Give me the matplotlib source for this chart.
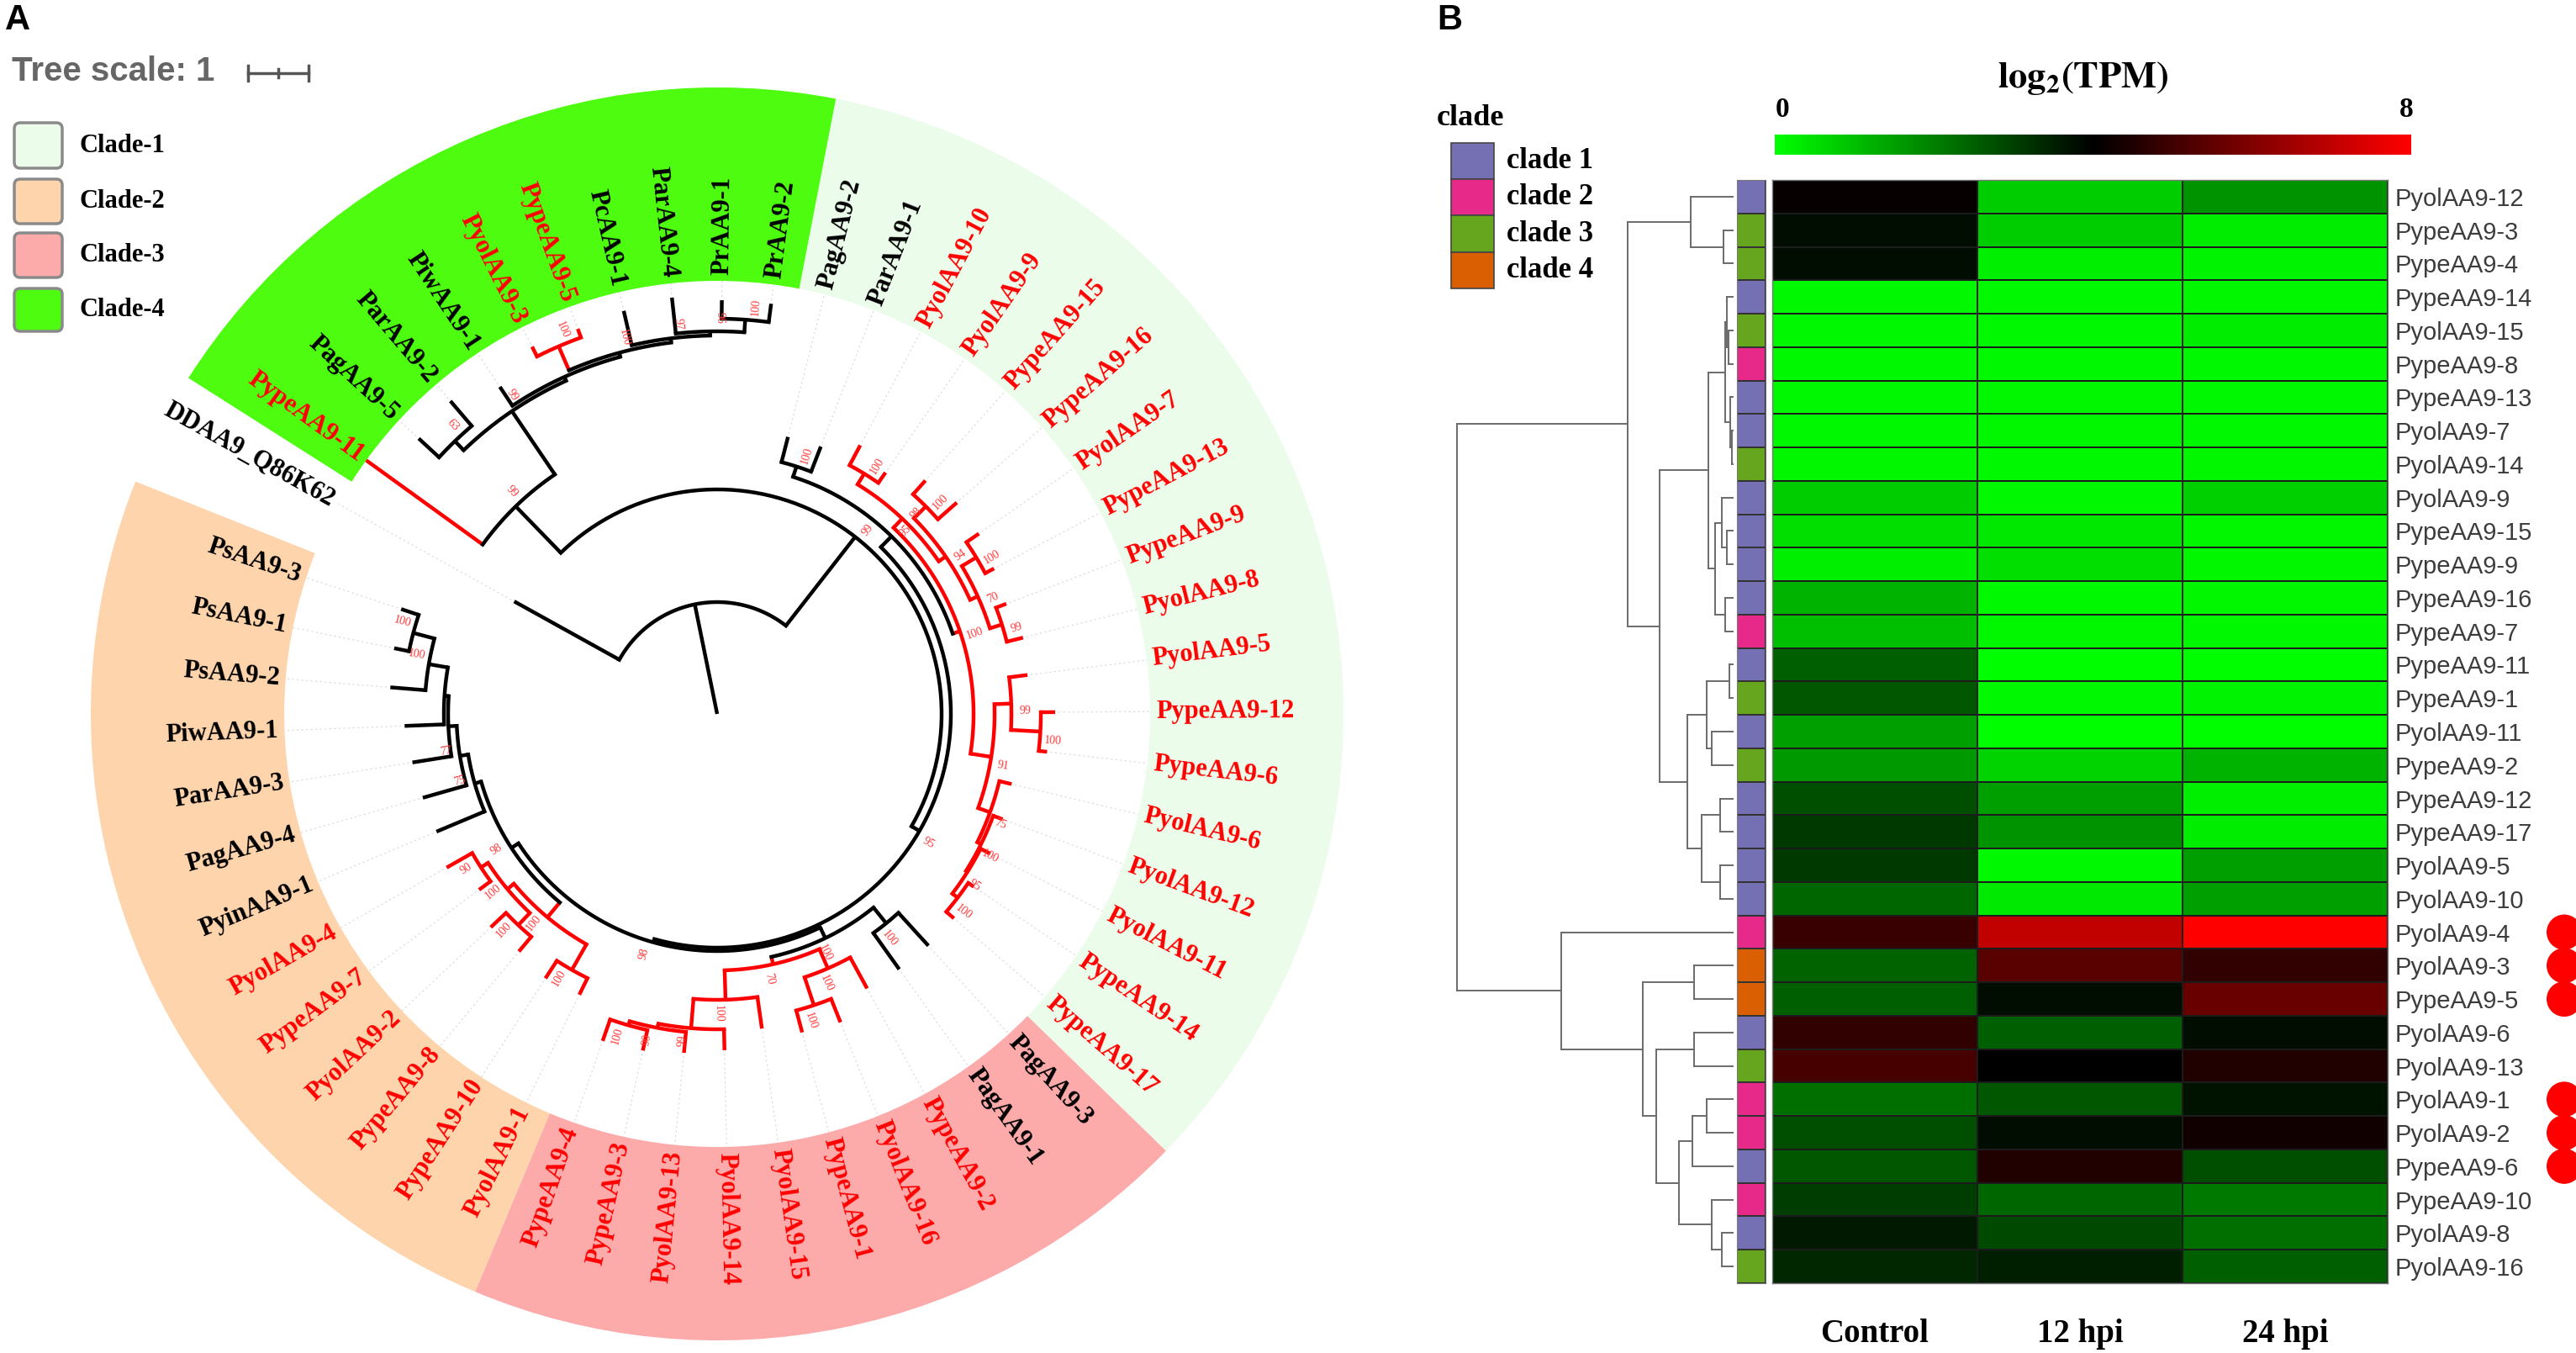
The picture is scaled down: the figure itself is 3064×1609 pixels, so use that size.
import numpy as np
import matplotlib
matplotlib.use("Agg")
import matplotlib.pyplot as plt
from matplotlib.patches import Wedge, FancyBboxPatch, Rectangle, Circle
from matplotlib.colors import LinearSegmentedColormap, ListedColormap

plt.rcParams['mathtext.fontset'] = 'stix'

# ---------------- panel A data ----------------
# leaves in clockwise order, starting at the outgroup
leaf_names = ["DDAA9_Q86K62", "PypeAA9-11", "PagAA9-5", "ParAA9-2", "PiwAA9-1", "PyolAA9-3",
              "PypeAA9-5", "PcAA9-1", "ParAA9-4", "PrAA9-1", "PrAA9-2",
              "PagAA9-2", "ParAA9-1", "PyolAA9-10", "PyolAA9-9", "PypeAA9-15", "PypeAA9-16",
              "PyolAA9-7", "PypeAA9-13", "PypeAA9-9", "PyolAA9-8", "PyolAA9-5", "PypeAA9-12",
              "PypeAA9-6", "PyolAA9-6", "PyolAA9-12", "PyolAA9-11", "PypeAA9-14", "PypeAA9-17",
              "PagAA9-3", "PagAA9-1", "PypeAA9-2", "PyolAA9-16", "PypeAA9-1", "PyolAA9-15",
              "PyolAA9-14", "PyolAA9-13", "PypeAA9-3", "PypeAA9-4",
              "PyolAA9-1", "PypeAA9-10", "PypeAA9-8", "PyolAA9-2", "PypeAA9-7", "PyolAA9-4",
              "PyinAA9-1", "PagAA9-4", "ParAA9-3", "PiwAA9-1", "PsAA9-2", "PsAA9-1", "PsAA9-3"]
leaf_clade = [0] + [4] * 10 + [1] * 18 + [3] * 10 + [2] * 13
# tip radius of each leaf branch (pixels from tree centre)
tip_radius = [276, 515, 483, 489, 467, 489, 487, 492, 498, 492, 492,
              340, 341, 362, 350, 372, 380, 378, 372, 368, 375, 372, 402,
              395, 360, 362, 365, 368, 372,
              373, 373, 372, 395, 392, 378, 400, 405, 410, 412,
              372, 375, 368, 370, 352, 370, 362, 364, 367, 372, 390, 392, 396]

# tree: (node radius, bootstrap, [children]); leaves listed in the same order as leaf_names
tree = (133, None, [
    "DDAA9_Q86K62",
    (267, 99, [
        (344, 99, [
            "PypeAA9-11",
            (435, 99, [
                (450, 63, ["PagAA9-5", "ParAA9-2"]),
                (440, None, ["PiwAA9-1",
                    (445, 100, [
                        (476, 100, ["PyolAA9-3", "PypeAA9-5"]),
                        (450, 97, ["PcAA9-1",
                            (455, 96, ["ParAA9-4",
                                (470, 100, ["PrAA9-1", "PrAA9-2"])])])])])])]),
        (278, 95, [
            (296, 95, [
                (309, 100, ["PagAA9-2", "ParAA9-1"]),
                (305, 100, [
                    (320, 98, [
                        (335, 100, ["PyolAA9-10", "PyolAA9-9"]),
                        (330, 94, [
                            (350, 100, ["PypeAA9-15", "PypeAA9-16"]),
                            (340, 70, [
                                (360, 100, ["PyolAA9-7", "PypeAA9-13"]),
                                (355, 99, ["PypeAA9-9", "PyolAA9-8"])])])]),
                    (330, 91, [
                        (350, 99, ["PyolAA9-5", (385, 100, ["PypeAA9-12", "PypeAA9-6"])]),
                        (345, 75, ["PyolAA9-6",
                            (350, 100, ["PyolAA9-12",
                                (352, 95, ["PyolAA9-11",
                                    (360, 100, ["PypeAA9-14", "PypeAA9-17"])])])])])])]),
            (282, 98, [
                (296, 100, [
                    (320, 100, ["PagAA9-3", "PagAA9-1"]),
                    (305, 70, [
                        (330, 100, ["PypeAA9-2", (365, 100, ["PyolAA9-16", "PypeAA9-1"])]),
                        (340, 100, ["PyolAA9-15",
                            (375, 99, ["PyolAA9-14",
                                (380, 90, ["PyolAA9-13",
                                    (385, 100, ["PypeAA9-3", "PypeAA9-4"])])])])])]),
                (292, 98, [
                    (315, 100, [
                        (350, 100, ["PyolAA9-1", "PypeAA9-10"]),
                        (325, 100, [(345, 100, ["PypeAA9-8", "PyolAA9-2"]),
                                    (335, 90, ["PypeAA9-7", "PyolAA9-4"])])]),
                    (300, 75, ["PyinAA9-1",
                        (310, 77, ["PagAA9-4",
                            (320, None, ["ParAA9-3",
                                (325, None, ["PiwAA9-1",
                                    (348, 100, ["PsAA9-2",
                                        (374, 100, ["PsAA9-1", "PsAA9-3"])])])])])])])])])])])

clade_names = ["Clade-1", "Clade-2", "Clade-3", "Clade-4"]
clade_fill = ["#ebfcea", "#fdd4ac", "#fdaaaa", "#4dfc0e"]

# ---------------- panel B data ----------------
hm_rows = ["PyolAA9-12", "PypeAA9-3", "PypeAA9-4", "PypeAA9-14", "PyolAA9-15", "PypeAA9-8",
           "PypeAA9-13", "PyolAA9-7", "PyolAA9-14", "PyolAA9-9", "PypeAA9-15", "PypeAA9-9",
           "PypeAA9-16", "PypeAA9-7", "PypeAA9-11", "PypeAA9-1", "PyolAA9-11", "PypeAA9-2",
           "PypeAA9-12", "PypeAA9-17", "PyolAA9-5", "PyolAA9-10", "PyolAA9-4", "PyolAA9-3",
           "PypeAA9-5", "PyolAA9-6", "PyolAA9-13", "PyolAA9-1", "PyolAA9-2", "PypeAA9-6",
           "PypeAA9-10", "PyolAA9-8", "PyolAA9-16"]
hm_cols = ["Control", "12 hpi", "24 hpi"]
tpm_control = [4.1, 3.8, 3.8, 0.1, 0.1, 0.1, 0.1, 0.1, 0.15, 0.8, 0.5, 0.25, 1.2, 1.0, 2.5,
               2.65, 1.5, 1.6, 2.75, 3.1, 3.1, 2.4, 4.9, 2.45, 2.5, 4.75, 5.1, 2.25, 2.75,
               2.65, 3.05, 3.6, 3.4]
tpm_12h = [0.8, 0.8, 0.25, 0.1, 0.1, 0.1, 0.15, 0.15, 0.1, 0.1, 0.4, 0.5, 0.1, 0.15, 0.05,
           0.1, 0.05, 0.7, 1.5, 1.7, 0.1, 0.35, 7.0, 5.4, 3.8, 2.5, 4.0, 2.65, 3.8, 4.5,
           2.4, 2.85, 3.5]
tpm_24h = [1.7, 0.3, 0.2, 0.15, 0.3, 0.1, 0.1, 0.1, 0.15, 0.75, 0.15, 0.15, 0.15, 0.1, 0.05,
           0.2, 0.05, 1.2, 0.25, 0.3, 1.5, 1.5, 8.0, 4.75, 5.65, 3.8, 4.5, 3.7, 4.25, 2.75,
           2.1, 2.25, 2.5]
row_clade = [1, 3, 3, 1, 3, 2, 1, 1, 3, 1, 1, 1, 1, 2, 1, 3, 1, 3, 1, 1, 1, 1, 2, 4, 4, 1, 3,
             2, 2, 1, 2, 1, 3]
marked_rows = ["PyolAA9-4", "PyolAA9-3", "PypeAA9-5", "PyolAA9-1", "PyolAA9-2", "PypeAA9-6"]
side_colors = ["#7570b3", "#e7298a", "#66a61e", "#d95f02"]

# row dendrogram: (height, [children]); leaves in row order
dendro = (329, [
    (126, [
        (51, ["PyolAA9-12", (12, ["PypeAA9-3", "PypeAA9-4"])]),
        (88, [
            (30, [
                (10, [(8, ["PypeAA9-14", (6, ["PyolAA9-15", "PypeAA9-8"])]),
                      (4, ["PypeAA9-13", (2, ["PyolAA9-7", "PyolAA9-14"])])]),
                (22, [(14, ["PyolAA9-9", (8, ["PypeAA9-15", "PypeAA9-9"])]),
                      (10, ["PypeAA9-16", "PypeAA9-7"])])]),
            (55, [
                (32, [(5, ["PypeAA9-11", "PypeAA9-1"]), (26, ["PyolAA9-11", "PypeAA9-2"])]),
                (38, [(16, ["PypeAA9-12", "PypeAA9-17"]), (16, ["PyolAA9-5", "PyolAA9-10"])])])])]),
    (205, [
        "PyolAA9-4",
        (108, [
            (47, ["PyolAA9-3", "PypeAA9-5"]),
            (92, [
                (47, ["PyolAA9-6", "PyolAA9-13"]),
                (65, [
                    (49, [(32, ["PyolAA9-1", "PyolAA9-2"]), "PypeAA9-6"]),
                    (26, ["PypeAA9-10", (14, ["PyolAA9-8", "PyolAA9-16"])])])])])])])

# ---------------- figure ----------------
W, H = 3064, 1609
fig = plt.figure(figsize=(W / 100, H / 100), dpi=100)
ax = fig.add_axes([0, 0, 1, 1])
ax.set_xlim(0, W)
ax.set_ylim(0, H)
ax.axis('off')


def py(y):
    return H - y


SERIF = "Liberation Serif"
SANS = "Liberation Sans"

# tree geometry
cx, cy = 853, py(849)
step = 6.85
theta0 = 151.0
leaf_theta = [theta0 - i * step for i in range(len(leaf_names))]
leaf_red = [n.startswith("Pype") or n.startswith("Pyol") for n in leaf_names]
band_in, band_out, label_r = 515, 745, 522
lw_tree = 3.2


def pol(r, th):
    t = np.deg2rad(th)
    return cx + r * np.cos(t), cy + r * np.sin(t)


# clade bands
for k in range(1, 5):
    idx = [i for i, c in enumerate(leaf_clade) if c == k]
    t1 = leaf_theta[max(idx)] - step / 2
    t2 = leaf_theta[min(idx)] + step / 2
    ax.add_patch(Wedge((cx, cy), band_out, t1, t2, width=band_out - band_in,
                       facecolor=clade_fill[k - 1], edgecolor='none', zorder=1))

counter = [0]


def radial(r1, r2, th, col):
    x1, y1 = pol(r1, th)
    x2, y2 = pol(r2, th)
    ax.plot([x1, x2], [y1, y2], color=col, lw=lw_tree, solid_capstyle='butt', zorder=3)


def layout(node, parent_r):
    if isinstance(node, str):
        i = counter[0]
        counter[0] += 1
        th = leaf_theta[i]
        col = 'red' if leaf_red[i] else 'black'
        radial(parent_r, tip_radius[i], th, col)
        if tip_radius[i] < band_in:
            x1, y1 = pol(tip_radius[i] + 4, th)
            x2, y2 = pol(band_in, th)
            ax.plot([x1, x2], [y1, y2], color='#d8d8d8', lw=0.8, ls=(0, (2, 3)), zorder=2)
        return th, leaf_red[i]
    r, sup, kids = node
    res = [layout(k, r) for k in kids]
    ths = [t for t, _ in res]
    red = all(c for _, c in res)
    col = 'red' if red else 'black'
    tt = np.linspace(ths[-1], ths[0], 80)
    xs, ys = pol(r, tt)
    ax.plot(xs, ys, color=col, lw=lw_tree, solid_capstyle='projecting', zorder=3)
    th = (ths[0] + ths[-1]) / 2
    if parent_r is not None:
        radial(parent_r, r, th, col)
    if sup is not None:
        bx, by = pol(r + 16, th - 1.4)
        rot = th if np.cos(np.deg2rad(th)) >= 0 else th + 180
        ax.text(bx, by, str(sup), fontsize=10, color='#ff3b3b', family=SERIF,
                rotation=rot, rotation_mode='anchor', ha='center', va='center', zorder=4)
    return th, red


root_th, _ = layout(tree, None)
radial(0, tree[0], root_th, 'black')

# leaf labels
for i, name in enumerate(leaf_names):
    th = leaf_theta[i]
    x, y = pol(label_r, th)
    if np.cos(np.deg2rad(th)) >= 0:
        rot, ha = th, 'left'
    else:
        rot, ha = th + 180, 'right'
    ax.text(x, y, name, fontsize=22, fontweight='bold', family=SERIF,
            color='red' if leaf_red[i] else 'black', rotation=rot,
            rotation_mode='anchor', ha=ha, va='center', zorder=5)

# panel A legend and scale
ax.text(6, py(24), "A", fontsize=30, fontweight='bold', family=SANS, va='center', ha='left')
ax.text(14, py(85), "Tree scale: 1", fontsize=29, fontweight='bold', family=SANS,
        color='#666666', va='center', ha='left')
ax.plot([295, 367], [py(87), py(87)], color='#555555', lw=2.5)
for sx, hh in [(295, 9), (331, 5), (367, 9)]:
    ax.plot([sx, sx], [py(87) - hh, py(87) + hh], color='#555555', lw=2.5)

leg_y = [(146, 200), (213, 266), (277, 330), (343, 394)]
for k in range(4):
    y0, y1 = leg_y[k]
    ax.add_patch(FancyBboxPatch((17, py(y1)), 57, y1 - y0,
                                boxstyle="round,pad=0,rounding_size=7",
                                facecolor=clade_fill[k], edgecolor='#8a8a8a', lw=2.5))
    ax.text(95, py((y0 + y1) / 2), clade_names[k], fontsize=22, fontweight='bold',
            family=SERIF, va='center', ha='left')

# ---------------- panel B ----------------
hm_left, hm_right, hm_top, hm_bot = 2108, 2840, 214, 1526
nrow = len(hm_rows)
rowh = (hm_bot - hm_top) / nrow

cmap = LinearSegmentedColormap.from_list("gbr", ["#00ff00", "#000000", "#ff0000"])
vals = np.array([tpm_control, tpm_12h, tpm_24h]).T

ax_hm = fig.add_axes([hm_left / W, (H - hm_bot) / H, (hm_right - hm_left) / W,
                      (hm_bot - hm_top) / H])
ax_hm.pcolormesh(vals, cmap=cmap, vmin=0, vmax=8, edgecolors='#1c1c1c', linewidth=1.2)
ax_hm.set_xlim(0, 3)
ax_hm.set_ylim(nrow, 0)
ax_hm.yaxis.tick_right()
ax_hm.set_yticks(np.arange(nrow) + 0.5)
ax_hm.set_yticklabels(hm_rows, fontsize=21, family=SANS, color='#3c3c3c')
ax_hm.set_xticks(np.arange(3) + 0.5)
ax_hm.set_xticklabels(hm_cols, fontsize=28, fontweight='bold', family=SERIF)
ax_hm.tick_params(axis='both', length=0)
ax_hm.tick_params(axis='y', pad=6)
ax_hm.tick_params(axis='x', pad=30)
for s in ax_hm.spines.values():
    s.set_color('#777777')
    s.set_linewidth(1)

# clade side bar
ax_sd = fig.add_axes([2066 / W, (H - hm_bot) / H, 34 / W, (hm_bot - hm_top) / H])
ax_sd.pcolormesh(np.array(row_clade)[:, None] - 1, cmap=ListedColormap(side_colors),
                 vmin=-0.5, vmax=3.5, edgecolors='#333333', linewidth=1.2)
ax_sd.set_ylim(nrow, 0)
ax_sd.set_xticks([])
ax_sd.set_yticks([])
for s in ax_sd.spines.values():
    s.set_color('#777777')

# row dendrogram
dn_left, dn_right = 1728, 2062
ax_dn = fig.add_axes([dn_left / W, (H - hm_bot) / H, (dn_right - dn_left) / W,
                      (hm_bot - hm_top) / H])
ax_dn.set_xlim(dn_right - dn_left, 0)
ax_dn.set_ylim(nrow, 0)
ax_dn.axis('off')
leaf_counter = [0]


def draw_dendro(node):
    if isinstance(node, str):
        y = leaf_counter[0] + 0.5
        leaf_counter[0] += 1
        return 0.0, y
    h, kids = node
    pts = [draw_dendro(k) for k in kids]
    for ch, cyy in pts:
        ax_dn.plot([ch, h], [cyy, cyy], color='#6a6a6a', lw=1.4)
    ys = [p[1] for p in pts]
    ax_dn.plot([h, h], [min(ys), max(ys)], color='#6a6a6a', lw=1.4)
    return h, (ys[0] + ys[-1]) / 2


draw_dendro(dendro)

# colour bar
ax_cb = fig.add_axes([2111 / W, (H - 184) / H, 756 / W, 24 / H])
ax_cb.imshow(np.linspace(0, 8, 256)[None, :], aspect='auto', cmap=cmap, vmin=0, vmax=8)
ax_cb.axis('off')

ax.text(1709, py(24), "B", fontsize=30, fontweight='bold', family=SANS, va='center', ha='left')
ax.text(2478, py(93), r'$\mathbf{log_2(TPM)}$', fontsize=32, ha='center', va='center')
ax.text(2120, py(130), "0", fontsize=24, fontweight='bold', family=SERIF, ha='center', va='center')
ax.text(2862, py(130), "8", fontsize=24, fontweight='bold', family=SERIF, ha='center', va='center')

ax.text(1709, py(140), "clade", fontsize=26, fontweight='bold', family=SERIF, ha='left', va='center')
sd_y = [(170, 213), (213, 256), (256, 300), (300, 343)]
for k in range(4):
    y0, y1 = sd_y[k]
    ax.add_patch(Rectangle((1726, py(y1)), 51, y1 - y0, facecolor=side_colors[k],
                           edgecolor='#444444', lw=1.2))
    ax.text(1792, py((y0 + y1) / 2), "clade %d" % (k + 1), fontsize=25, fontweight='bold',
            family=SERIF, ha='left', va='center')

# red marks
for name in marked_rows:
    i = hm_rows.index(name)
    ax.add_patch(Circle((3050, py(hm_top + (i + 0.5) * rowh)), 21, color='#ff0000', lw=0))

fig.savefig("out.png", dpi=100)
